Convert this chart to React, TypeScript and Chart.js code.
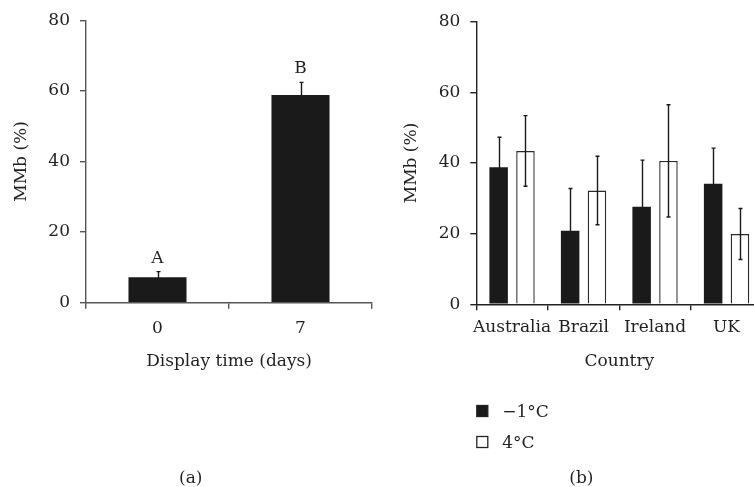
import React, { useEffect, useRef } from "react";
import { Chart, registerables } from "chart.js";

Chart.register(...registerables);

const FONT = "'DejaVu Serif', 'Liberation Serif', serif";
const TEXT = "#231f20";
const BAR_DARK = "#1a1a1a";

// Panel (a)
const displayDays = ["0", "7"];
const mmbByDay = [7.2, 58.8];
const mmbByDayErr = [1.6, 3.6];
const dayLetters = ["A", "B"];

// Panel (b)
const countries = ["Australia", "Brazil", "Ireland", "UK"];
const seriesLabels = ["\u22121°C", "4°C"];
const mmbCold = [38.8, 20.8, 27.6, 34.1];
const mmbColdErr = [8.5, 12.0, 13.2, 10.1];
const mmbWarm = [43.4, 32.2, 40.6, 19.9];
const mmbWarmErr = [10.0, 9.7, 15.9, 7.2];

const yMin = 0;
const yMax = 80;
const yStep = 20;
const yTitle = "MMb (%)";
const xTitleA = "Display time (days)";
const xTitleB = "Country";
const captionA = "(a)";
const captionB = "(b)";

const errorBarPlugin = {
  id: "errorBars",
  afterDatasetsDraw(chart: any, _args: any, opts: any) {
    const ctx = chart.ctx;
    const yScale = chart.scales.y;
    const errs: number[][] = opts.errors || [];
    ctx.save();
    errs.forEach((list, di) => {
      const meta = chart.getDatasetMeta(di);
      const data = chart.data.datasets[di].data as number[];
      meta.data.forEach((bar: any, i: number) => {
        const v = data[i];
        const e = list[i];
        const top = yScale.getPixelForValue(v + e);
        const bot = yScale.getPixelForValue(v - e);
        const x = Math.round(bar.x) + 0.5;
        ctx.strokeStyle = opts.color;
        ctx.lineWidth = 1.4;
        ctx.beginPath();
        ctx.moveTo(x, top);
        ctx.lineTo(x, bot);
        ctx.moveTo(x - opts.cap, top);
        ctx.lineTo(x + opts.cap, top);
        ctx.moveTo(x - opts.cap, bot);
        ctx.lineTo(x + opts.cap, bot);
        ctx.stroke();
        if (opts.letters && opts.letters[i]) {
          ctx.fillStyle = TEXT;
          ctx.font = `17px ${FONT}`;
          ctx.textAlign = "center";
          ctx.textBaseline = "alphabetic";
          ctx.fillText(opts.letters[i], bar.x, top - 9);
        }
      });
    });
    ctx.restore();
  },
};

const annotationPlugin = {
  id: "annotations",
  afterDraw(chart: any, _args: any, opts: any) {
    const ctx = chart.ctx;
    const area = chart.chartArea;
    ctx.save();
    ctx.font = `17px ${FONT}`;
    ctx.fillStyle = TEXT;
    ctx.textBaseline = "alphabetic";
    if (opts.caption) {
      ctx.textAlign = "center";
      ctx.fillText(opts.caption.text, opts.caption.x, opts.caption.y);
    }
    if (opts.legend) {
      const items = opts.legend.items;
      items.forEach((it: any, i: number) => {
        const sx = area.left + 0.5;
        const sy = opts.legend.top + i * opts.legend.gap;
        ctx.fillStyle = it.fill;
        ctx.fillRect(sx, sy, 11, 11);
        ctx.strokeStyle = "#222";
        ctx.lineWidth = 1.3;
        ctx.strokeRect(sx, sy, 11, 11);
        ctx.fillStyle = TEXT;
        ctx.textAlign = "left";
        ctx.fillText(it.label, area.left + 26, sy + 11);
      });
    }
    ctx.restore();
  },
};

function yAxis(width: number, titlePad: number, color: string): any {
  return {
    min: yMin,
    max: yMax,
    afterFit: (s: any) => {
      s.width = width;
    },
    border: { display: true, color, width: 1.4 },
    grid: { drawOnChartArea: false, drawTicks: true, tickLength: 6, color, lineWidth: 1.4 },
    ticks: { stepSize: yStep, padding: 10, color: TEXT, font: { family: FONT, size: 17 } },
    title: {
      display: true,
      text: yTitle,
      color: TEXT,
      font: { family: FONT, size: 17 },
      padding: { top: titlePad, bottom: 0 },
    },
  };
}

function xAxis(height: number, title: string, titlePad: number, tickPad: number, color: string): any {
  return {
    afterFit: (s: any) => {
      s.height = height;
    },
    border: { display: true, color, width: 1.4 },
    grid: { drawOnChartArea: false, drawTicks: true, tickLength: 6, color, lineWidth: 1.4, offset: true },
    ticks: { padding: tickPad, color: TEXT, font: { family: FONT, size: 17 }, maxRotation: 0, autoSkip: false },
    title: {
      display: true,
      text: title,
      color: TEXT,
      font: { family: FONT, size: 17 },
      padding: { top: 0, bottom: titlePad },
    },
  };
}

export default function App() {
  const refA = useRef<HTMLCanvasElement | null>(null);
  const refB = useRef<HTMLCanvasElement | null>(null);

  useEffect(() => {
    const chartA = new Chart(refA.current as HTMLCanvasElement, {
      type: "bar",
      data: {
        labels: displayDays,
        datasets: [
          {
            label: "MMb",
            data: mmbByDay,
            backgroundColor: BAR_DARK,
            borderWidth: 0,
            categoryPercentage: 1,
            barPercentage: 0.406,
          },
        ],
      },
      options: {
        responsive: false,
        maintainAspectRatio: false,
        animation: false,
        devicePixelRatio: 1,
        layout: { padding: { left: 0, right: 5, top: 20, bottom: 0 } },
        plugins: {
          legend: { display: false },
          tooltip: { enabled: false },
          errorBars: { errors: [mmbByDayErr], color: BAR_DARK, cap: 2, letters: dayLetters },
          annotations: { caption: { text: captionA, x: 190.8, y: 483 } },
        } as any,
        scales: {
          x: xAxis(184.3, xTitleA, 115, 10, "#555"),
          y: yAxis(86, 11, "#555"),
        },
      },
      plugins: [errorBarPlugin, annotationPlugin],
    });

    const chartB = new Chart(refB.current as HTMLCanvasElement, {
      type: "bar",
      data: {
        labels: countries,
        datasets: [
          {
            label: seriesLabels[0],
            data: mmbCold,
            backgroundColor: BAR_DARK,
            borderWidth: 0,
            categoryPercentage: 0.75,
            barPercentage: 0.69,
          },
          {
            label: seriesLabels[1],
            data: mmbWarm,
            backgroundColor: "#ffffff",
            borderColor: "#2a2a2a",
            borderWidth: 1.4,
            categoryPercentage: 0.75,
            barPercentage: 0.69,
          },
        ],
      },
      options: {
        responsive: false,
        maintainAspectRatio: false,
        animation: false,
        devicePixelRatio: 1,
        layout: { padding: { left: 0, right: 14.7, top: 21.7, bottom: 0 } },
        plugins: {
          legend: { display: false },
          tooltip: { enabled: false },
          errorBars: { errors: [mmbColdErr, mmbWarmErr], color: BAR_DARK, cap: 2 },
          annotations: {
            caption: { text: captionB, x: 204.4, y: 483 },
            legend: {
              top: 405.5,
              gap: 31,
              items: [
                { label: seriesLabels[0], fill: BAR_DARK },
                { label: seriesLabels[1], fill: "#ffffff" },
              ],
            },
          },
        } as any,
        scales: {
          x: xAxis(182.7, xTitleB, 115.5, 7, "#222"),
          y: yAxis(99.3, 24, "#222"),
        },
      },
      plugins: [errorBarPlugin, annotationPlugin],
    });

    return () => {
      chartA.destroy();
      chartB.destroy();
    };
  }, []);

  return (
    <div
      style={{
        position: "fixed",
        left: 0,
        top: 0,
        width: 754,
        height: 487,
        overflow: "hidden",
        background: "#ffffff",
      }}
    >
      <canvas
        ref={refA}
        width={377}
        height={487}
        style={{ position: "absolute", left: 0, top: 0, width: 377, height: 487 }}
      />
      <canvas
        ref={refB}
        width={400}
        height={487}
        style={{ position: "absolute", left: 377, top: 0, width: 400, height: 487 }}
      />
    </div>
  );
}
